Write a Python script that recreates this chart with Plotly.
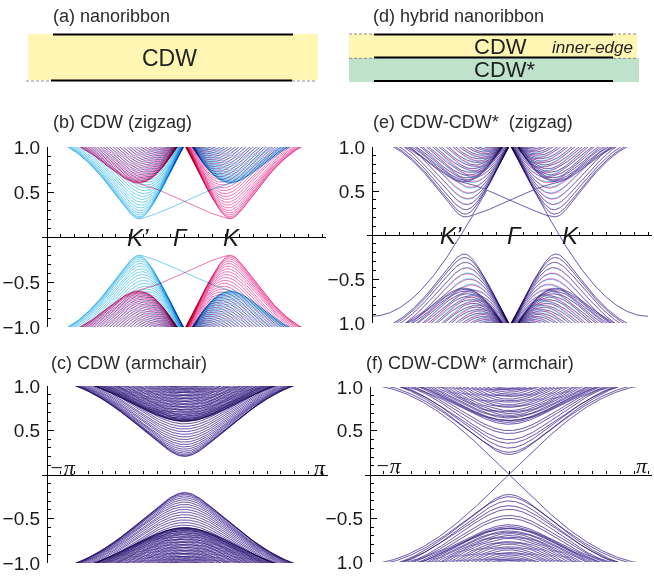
import numpy as np
import plotly.graph_objects as go

W, H = 654, 578

# ---------------- values ----------------
# (sublattice potential, valley/spin splitting) -> band edges 0.2 and 0.6
CDW = (0.4, 0.2)
CDW_STAR_ZIGZAG = (-0.4, 0.2)
CDW_STAR_ARMCHAIR = (0.2, -0.4)
ZIGZAG_CHAINS = 80
ARMCHAIR_LINES_SINGLE = 150
ARMCHAIR_LINES_HYBRID = 76
K_POINTS = 241

Y_TICKS = [-1.0, -0.5, 0.5, 1.0]
Y_TEXT_LEFT = ["\u22121.0", "\u22120.5", "0.5", "1.0"]
Y_TEXT_RIGHT = ["1.0", "\u22120.5", "0.5", "1.0"]
Y_MINOR = [-0.9, -0.8, -0.7, -0.6, -0.4, -0.3, -0.2, -0.1, 0.1, 0.2, 0.3, 0.4, 0.6, 0.7, 0.8, 0.9]
X_TICKS = list(np.arange(-10, 11) * np.pi / 10)

VALLEY_LABELS = ["K\u2019", "\u0393", "K"]
VALLEY_X_B = [-0.34 * np.pi, -0.03 * np.pi, 0.34 * np.pi]
VALLEY_X_E = [-0.43 * np.pi, 0.03 * np.pi, 0.44 * np.pi]

CYAN = "#2ab6ec"
MAGENTA = "#ea2a8c"

SOC_UNIT = 1 / (3 * np.sqrt(3))
D = 1 / np.sqrt(3)
A1 = np.array([1.0, 0.0])
A2 = np.array([0.5, np.sqrt(3) / 2])


def ribbon(kind, n):
    if kind == "zigzag":
        T = A1.copy(); t_hat = np.array([1.0, 0.0]); w_hat = np.array([0.0, 1.0])
        wlo, whi = D, 1.5 * n * D
    else:
        T = 2 * A2 - A1; t_hat = np.array([0.0, 1.0]); w_hat = np.array([1.0, 0.0])
        wlo, whi = 0.0, (n - 1) / 2
    m, q = np.meshgrid(np.arange(-n - 4, n + 5), np.arange(-4, n + 5))
    base = m.ravel()[:, None] * A1 + q.ravel()[:, None] * A2
    P = np.vstack([base, base + np.array([0.0, D])])
    S = np.concatenate([np.ones(len(base)), -np.ones(len(base))])
    Tl = np.linalg.norm(T)
    s = P @ t_hat / Tl
    w = P @ w_hat
    keep = (s > -1e-9) & (s < 1 - 1e-9) & (w > wlo - 1e-9) & (w < whi + 1e-9)
    return P[keep], S[keep], w[keep], T


def spectrum(P, T, pot, lam, ks):
    n = len(P)
    lam = np.broadcast_to(lam, (n,))
    HR = {R: np.zeros((n, n), complex) for R in range(-2, 3)}
    nbrs = [[] for _ in range(n)]
    for R in (-1, 0, 1):
        diff = P[None, :, :] + R * T - P[:, None, :]
        dist = np.linalg.norm(diff, axis=2)
        ii, jj = np.nonzero(np.abs(dist - D) < 1e-6)
        for i, j in zip(ii, jj):
            HR[R][i, j] += -1.0
            nbrs[i].append((j, R))
    for i in range(n):
        for l, R1 in nbrs[i]:
            d1 = P[l] + R1 * T - P[i]
            for j, R2 in nbrs[l]:
                if j == i and R1 + R2 == 0:
                    continue
                d2 = P[j] + R2 * T - P[l]
                nu = np.sign(d1[0] * d2[1] - d1[1] * d2[0])
                HR[R1 + R2][i, j] += 1j * 0.5 * (lam[i] + lam[j]) * nu
    HR[0] += np.diag(pot)
    Rs = sorted(HR)
    stack = np.array([HR[R] for R in Rs])
    ph = np.exp(1j * np.outer(ks, Rs))
    out = []
    for chunk in np.array_split(np.arange(len(ks)), 12):
        Hk = np.einsum("kr,rij->kij", ph[chunk], stack)
        out.append(np.linalg.eigvalsh(Hk))
    return np.vstack(out)


def phase(S, up, top, bottom):
    pot = np.where(up, top[0], bottom[0]) * S
    lam = np.where(up, top[1], bottom[1]) * SOC_UNIT
    return pot, lam


xs = np.linspace(-np.pi, np.pi, K_POINTS)

Pz, Sz, wz, Tz = ribbon("zigzag", ZIGZAG_CHAINS)
upz = wz > 1.5 * (ZIGZAG_CHAINS // 2) * D - 0.25 * D
Pa1, Sa1, wa1, Ta1 = ribbon("armchair", ARMCHAIR_LINES_SINGLE)
Pa2, Sa2, wa2, Ta2 = ribbon("armchair", ARMCHAIR_LINES_HYBRID)
upa2 = wa2 > (ARMCHAIR_LINES_HYBRID // 2 - 0.5) / 2

cases = {
    "b": (Pz, Tz, *phase(Sz, np.ones_like(upz), CDW, CDW), xs + np.pi),
    "e": (Pz, Tz, *phase(Sz, upz, CDW, CDW_STAR_ZIGZAG), xs + np.pi),
    "c": (Pa1, Ta1, *phase(Sa1, np.ones(len(Sa1), bool), CDW, CDW), xs),
    "f": (Pa2, Ta2, *phase(Sa2, upa2, CDW, CDW_STAR_ARMCHAIR), xs),
}
panels = {name: {sp: spectrum(P, T, pot, sp * lam, ks) for sp in (1, -1)}
          for name, (P, T, pot, lam, ks) in cases.items()}

ik = np.argmin(np.abs(xs + np.pi / 3))
cyan_spin = 1 if np.min(np.abs(panels["b"][1][ik])) < np.min(np.abs(panels["b"][-1][ik])) else -1


def lines_xy(E):
    mask = np.min(np.abs(E), axis=0) < 1.03
    Eb = np.round(E[:, mask].T, 4)
    nb = Eb.shape[0]
    Y = np.hstack([Eb, np.full((nb, 1), np.nan)]).ravel()
    X = np.tile(np.append(np.round(xs, 4), np.nan), nb)
    return X, Y


def px(x):
    return x / W


def py(y):
    return 1 - y / H


GEOM = {
    "b": dict(xd=(42, 326), lo=47, hi=322, top=147, bot=327, ax="1"),
    "e": dict(xd=(367, 652), lo=372, hi=648, top=147, bot=323, ax="2"),
    "c": dict(xd=(42, 328), lo=47, hi=322, top=386, bot=563, ax="3"),
    "f": dict(xd=(365, 652), lo=370, hi=648, top=387, bot=562, ax="4"),
}

fig = go.Figure()
layout = dict(width=W, height=H, margin=dict(l=0, r=0, t=0, b=0, pad=0, autoexpand=False),
              paper_bgcolor="white", plot_bgcolor="rgba(0,0,0,0)", showlegend=False)
FONT = "Liberation Sans, Arial, Helvetica, sans-serif"

for name, g in GEOM.items():
    a = g["ax"]
    xa = "x" if a == "1" else "x" + a
    ya = "y" if a == "1" else "y" + a
    for sp, col in ((cyan_spin, CYAN), (-cyan_spin, MAGENTA)):
        X, Y = lines_xy(panels[name][sp])
        fig.add_trace(go.Scatter(x=X, y=Y, mode="lines", xaxis=xa, yaxis=ya,
                                 line=dict(color=col, width=0.65), hoverinfo="skip"))
    s = (g["hi"] - g["lo"]) / (2 * np.pi)
    xr = [-np.pi - (g["lo"] - g["xd"][0]) / s, np.pi + (g["xd"][1] - g["hi"]) / s]
    zero = (g["top"] + g["bot"]) / 2
    kx = "xaxis" if a == "1" else "xaxis" + a
    ky = "yaxis" if a == "1" else "yaxis" + a
    layout[kx] = dict(domain=[px(g["xd"][0]), px(g["xd"][1])], range=xr, anchor="free",
                      position=py(zero), showline=True, linecolor="black", linewidth=1.2,
                      ticks="inside", ticklen=3, tickcolor="black", tickwidth=1,
                      tickvals=X_TICKS, showticklabels=False, showgrid=False, zeroline=False,
                      automargin=False)
    layout[ky] = dict(domain=[py(g["bot"]), py(g["top"])], range=[-1, 1], anchor="free",
                      position=px(g["lo"]), showline=True, linecolor="black", linewidth=1.2,
                      ticks="inside", ticklen=6, tickcolor="black", tickwidth=1,
                      tickvals=Y_TICKS,
                      ticktext=Y_TEXT_LEFT if name in ("b", "c") else Y_TEXT_RIGHT,
                      tickfont=dict(family=FONT, size=19, color="#1a1a1a"),
                      minor=dict(tickvals=Y_MINOR, ticks="inside", ticklen=3,
                                 tickcolor="black", tickwidth=1),
                      showgrid=False, zeroline=False, ticklabelstandoff=3, automargin=False)

ann = []


def text(x, y, t, size=18, italic=False, anchor="left", family=FONT, color="#2b2b2b"):
    ann.append(dict(x=px(x), y=py(y), xref="paper", yref="paper", text=t, showarrow=False,
                    xanchor=anchor, yanchor="middle",
                    font=dict(family=family, size=size, color=color,
                              style="italic" if italic else "normal")))


text(51, 16, "(a) nanoribbon")
text(371, 16, "(d) hybrid nanoribbon")
text(51, 122, "(b) CDW (zigzag)")
text(371, 122, "(e) CDW-CDW*\u00a0 (zigzag)")
text(49, 363, "(c) CDW (armchair)")
text(364, 363, "(f) CDW-CDW* (armchair)")

text(170, 58, "CDW", size=23, anchor="center", color="#222")
text(500, 46, "CDW", size=22, anchor="center", color="#222")
text(505, 70, "CDW*", size=22, anchor="center", color="#222")
text(592, 47, "inner-edge", size=17, italic=True, anchor="center", color="#222")

for lab, xv in zip(VALLEY_LABELS, VALLEY_X_B):
    ann.append(dict(x=xv, y=0, xref="x", yref="y", text=lab, showarrow=False,
                    font=dict(family=FONT, size=24, color="#1a1a1a", style="italic")))
for lab, xv in zip(VALLEY_LABELS, VALLEY_X_E):
    ann.append(dict(x=xv, y=0, xref="x2", yref="y2", text=lab, showarrow=False,
                    font=dict(family=FONT, size=24, color="#1a1a1a", style="italic")))

SERIF = "Liberation Serif, Times New Roman, serif"
text(62, 467, "\u2212\u03c0", size=22, italic=True, anchor="center", family=SERIF, color="#1a1a1a")
text(320, 467, "\u03c0", size=22, italic=True, anchor="center", family=SERIF, color="#1a1a1a")
text(388, 465, "\u2212\u03c0", size=22, italic=True, anchor="center", family=SERIF, color="#1a1a1a")
text(642, 465, "\u03c0", size=22, italic=True, anchor="center", family=SERIF, color="#1a1a1a")

shapes = []


def rect(x0, y0, x1, y1, fill):
    shapes.append(dict(type="rect", xref="paper", yref="paper", x0=px(x0), x1=px(x1),
                       y0=py(y1), y1=py(y0), fillcolor=fill, line=dict(width=0), layer="below"))


def hline(x0, x1, y, color="black", width=2.2, dash="solid"):
    shapes.append(dict(type="line", xref="paper", yref="paper", x0=px(x0), x1=px(x1),
                       y0=py(y), y1=py(y), line=dict(color=color, width=width, dash=dash)))


YELLOW = "#fef6b2"
GREEN = "#bfe2ca"
rect(28, 34, 318, 80, YELLOW)
hline(53, 293, 34.5)
hline(51, 292, 80.5)
hline(26, 51, 81, color="#8a8a8a", width=1, dash="3px,2px")
hline(292, 316, 81, color="#8a8a8a", width=1, dash="3px,2px")

rect(349, 34, 637, 58, YELLOW)
rect(349, 58, 639, 82, GREEN)
hline(374, 613, 34.5)
hline(374, 613, 57.5)
hline(374, 613, 81)
for yy in (34, 58.3):
    hline(349, 374, yy, color="#8a8a8a", width=1, dash="3px,2px")
    hline(613, 638, yy, color="#8a8a8a", width=1, dash="3px,2px")

layout["annotations"] = ann
layout["shapes"] = shapes
fig.update_layout(**layout)

post = """
document.documentElement.style.margin = '0';
document.body.style.margin = '0';
document.body.style.padding = '0';
document.body.style.overflow = 'hidden';
var gd = document.getElementById('{plot_id}');
gd.querySelectorAll('.scatterlayer .trace path.js-line').forEach(function(p){
  p.style.mixBlendMode = 'multiply';
});
"""
fig.write_html("out.html", post_script=post, config={"displayModeBar": False})
